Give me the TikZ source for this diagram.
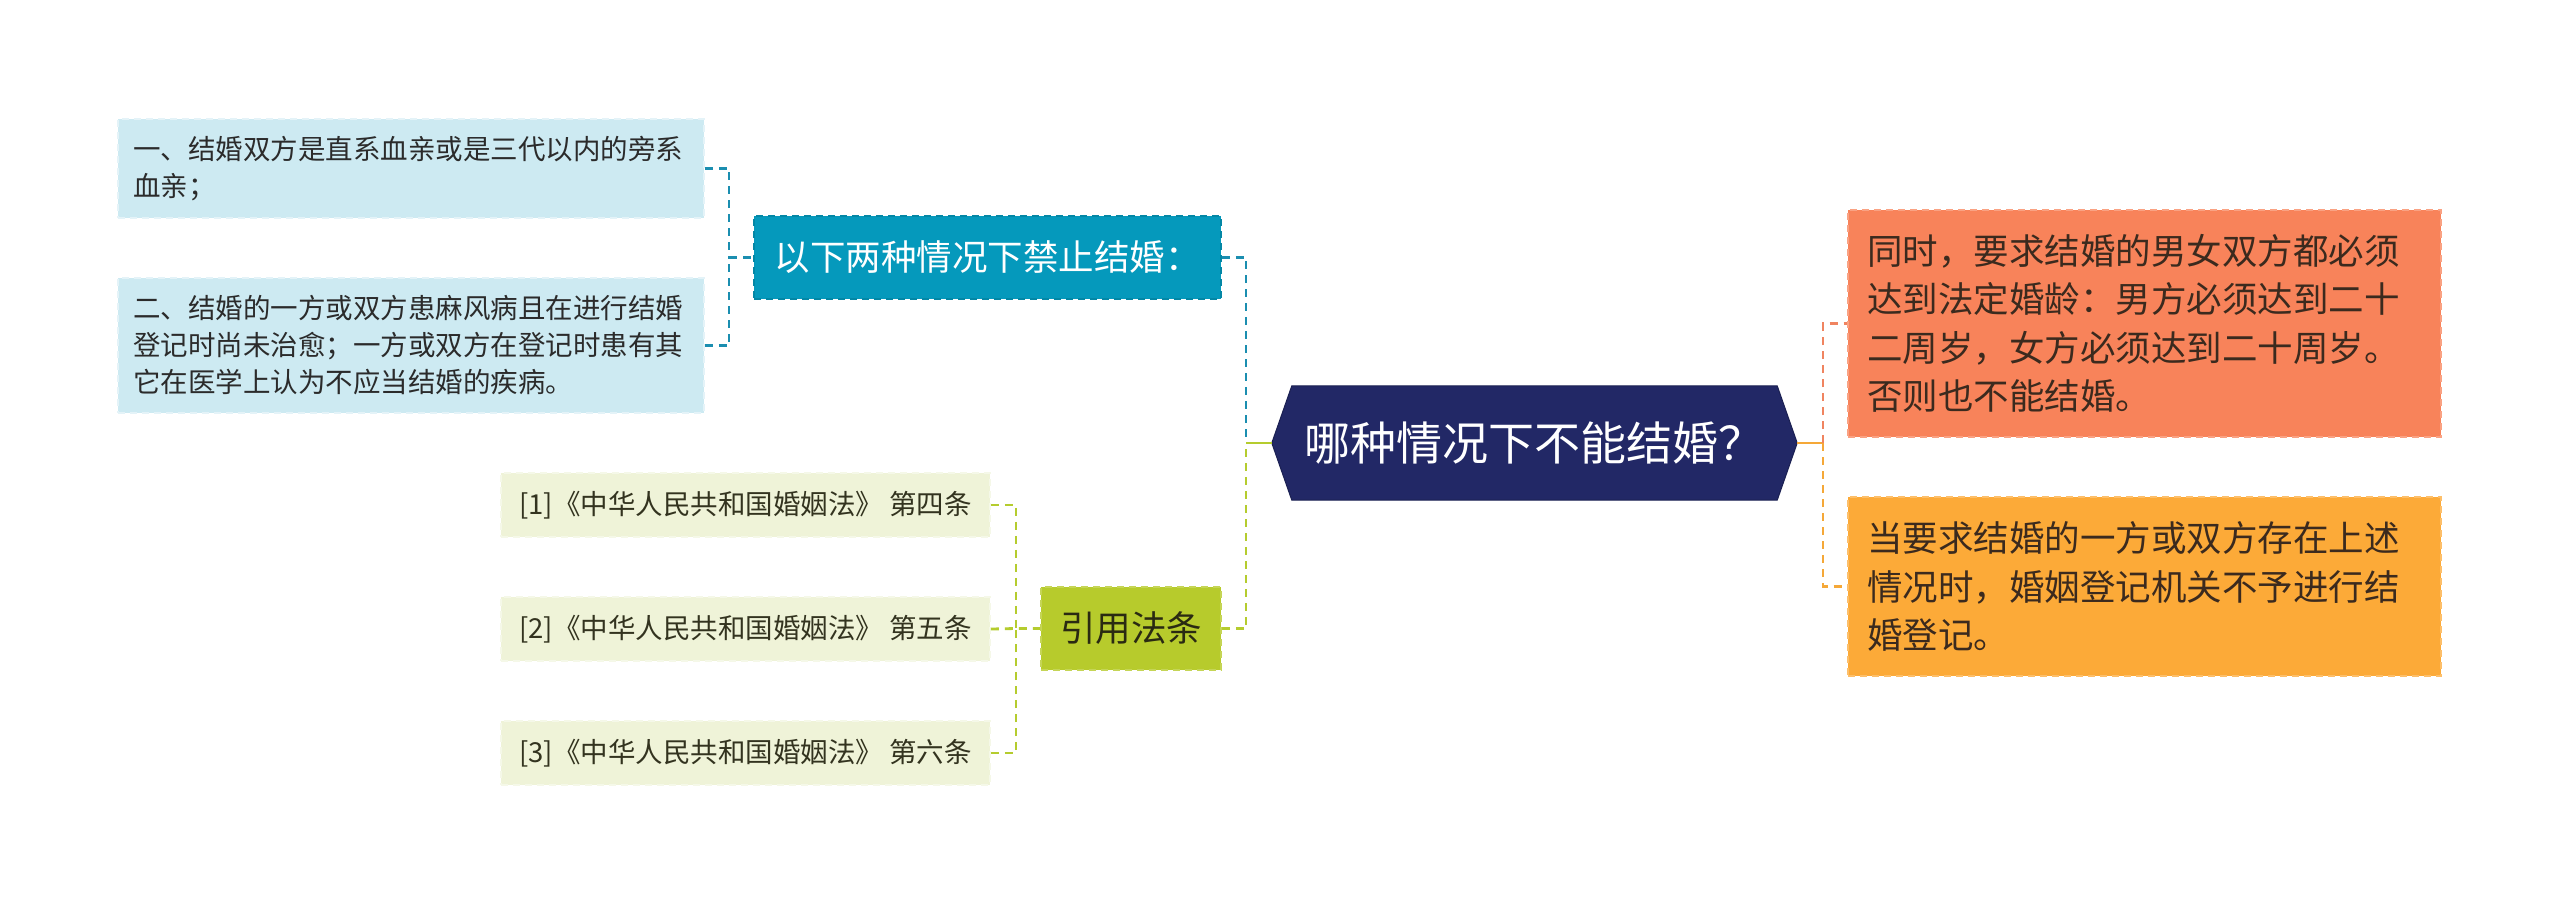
\documentclass[tikz,border=0pt]{standalone}
\usepackage{fontspec}
\setmainfont{Noto Sans CJK SC}
\usetikzlibrary{backgrounds}
\definecolor{afill}{HTML}{CDEAF2}
\definecolor{atext}{HTML}{2B2B2B}
\definecolor{bfill}{HTML}{0599BC}
\definecolor{cfill}{HTML}{B7CB2C}
\definecolor{ctext}{HTML}{2A2A12}
\definecolor{dfill}{HTML}{EFF3D8}
\definecolor{dtext}{HTML}{33331F}
\definecolor{rootfill}{HTML}{222866}
\definecolor{e1fill}{HTML}{F8835A}
\definecolor{e2fill}{HTML}{FCAA38}
\definecolor{etext}{HTML}{3B2A1E}
\definecolor{tealline}{HTML}{1B8EB0}
\definecolor{greenline}{HTML}{B5CC2E}
\definecolor{coralline}{HTML}{F08460}
\definecolor{orangeline}{HTML}{F5A838}
\tikzset{
  boxbase/.style={rectangle, inner sep=0pt, line width=1.6pt, dash pattern=on 7pt off 5pt},
  abox/.style={boxbase, fill=afill, draw=afill!55!white, text=atext,
    font=\fontsize{27.5}{37}\selectfont, align=left,
    text width=556pt, inner xsep=15pt, minimum width=586pt},
  bbox/.style={boxbase, fill=bfill, draw=bfill!88!black, text=white,
    font=\fontsize{35.5}{44}\selectfont, minimum width=467pt, minimum height=83pt},
  cbox/.style={boxbase, fill=cfill, draw=cfill!80!white, text=ctext,
    font=\fontsize{35.5}{44}\selectfont, minimum width=180pt, minimum height=83pt},
  dbox/.style={boxbase, fill=dfill, draw=dfill!60!white, text=dtext,
    font=\fontsize{27.5}{37}\selectfont, minimum width=489pt, minimum height=64pt},
  ebox/.style={boxbase, draw=#1!75!white, fill=#1, text=etext,
    font=\fontsize{35.5}{48.5}\selectfont, align=left,
    text width=555pt, inner xsep=19pt, minimum width=593pt},
  rootnode/.style={rectangle, inner sep=0pt, text=white,
    font=\fontsize{46}{52}\selectfont, minimum width=525pt, minimum height=114pt},
  conn/.style={line width=2.8pt, dash pattern=on 8pt off 6pt},
  solidconn/.style={line width=2.8pt}
}
\begin{document}
\begin{tikzpicture}[x=1pt,y=-1pt]
\useasboundingbox (0,0) rectangle (2560,903);
% nodes
\node[rootnode] (root) at (1534.5,443) {哪种情况下不能结婚？};
\node[bbox] (b) at (987.5,257.5) {以下两种情况下禁止结婚：};
\node[cbox] (c) at (1131,628.5) {引用法条};
\node[abox, minimum height=99pt] (a1) at (411,168.5) {一、结婚双方是直系血亲或是三代以内的旁系\\血亲；};
\node[abox, minimum height=135pt] (a2) at (411,345.5) {二、结婚的一方或双方患麻风病且在进行结婚\\登记时尚未治愈；一方或双方在登记时患有其\\它在医学上认为不应当结婚的疾病。};
\node[dbox] (d1) at (745.5,505) {[1]《中华人民共和国婚姻法》 第四条};
\node[dbox] (d2) at (745.5,629) {[2]《中华人民共和国婚姻法》 第五条};
\node[dbox] (d3) at (745.5,753) {[3]《中华人民共和国婚姻法》 第六条};
\node[ebox=e1fill, minimum height=227pt] (e1) at (2144.5,323.5) {同时，要求结婚的男女双方都必须\\达到法定婚龄：男方必须达到二十\\二周岁，女方必须达到二十周岁。\\否则也不能结婚。};
\node[ebox=e2fill, minimum height=179pt] (e2) at (2144.5,586.5) {当要求结婚的一方或双方存在上述\\情况时，婚姻登记机关不予进行结\\婚登记。};
% junction coordinates
\coordinate (jl) at (1246,443);
\coordinate (ja) at (729,257.5);
\coordinate (jd) at (1016,628.5);
\coordinate (jr) at (1823,443);
% connectors
\draw[conn, tealline] (b.east) -| (jl);
\draw[conn, greenline] (c.east) -| (jl);
\draw[solidconn, greenline] (jl) -- (root.west);
\draw[conn, tealline] (a1.east) -| (ja);
\draw[conn, tealline] (a2.east) -| (ja);
\draw[conn, tealline] (ja) -- (b.west);
\draw[conn, greenline] (d1.east) -| (jd);
\draw[conn, greenline] (d3.east) -| (jd);
\draw[conn, greenline] (d2.east) -- (jd) -- (c.west);
\draw[solidconn, orangeline] (root.east) -- (jr);
\draw[conn, coralline] (jr) |- (e1.west);
\draw[conn, orangeline] (jr) |- (e2.west);
% background and hexagon
\begin{scope}[on background layer]
\fill[white] (0,0) rectangle (2560,903);
\fill[rootfill, draw=rootfill!80!black, line width=1pt]
  (root.west) -- ([xshift=20pt]root.north west) -- ([xshift=-20pt]root.north east)
  -- (root.east) -- ([xshift=-20pt]root.south east) -- ([xshift=20pt]root.south west) -- cycle;
\end{scope}
\end{tikzpicture}
\end{document}
